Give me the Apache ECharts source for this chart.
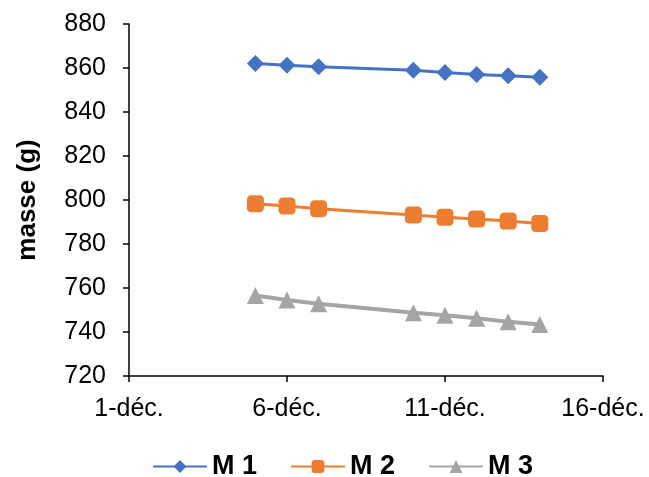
<!DOCTYPE html>
<html><head><meta charset="utf-8">
<script src="https://cdn.jsdelivr.net/npm/echarts@6/dist/echarts.min.js"></script>
<style>html,body{margin:0;padding:0;background:#fff}#c{width:649px;height:477px}</style>
</head><body><div id="c"></div>
<script>
var days = [5, 6, 7, 10, 11, 12, 13, 14];
var m1 = [862, 861.3, 860.6, 859, 858, 857.1, 856.5, 855.8];
var m2 = [798.3, 797.3, 796, 793.2, 792.2, 791.4, 790.4, 789.3];
var m3 = [756.6, 754.5, 752.8, 748.8, 747.6, 746.3, 744.7, 743.4];
var seriesNames = ['M 1', 'M 2', 'M 3'];
var colors = ['#4472C4', '#ED7D31', '#A5A5A5'];
var monthLabel = 'déc.';

function pts(vals){ return days.map(function(d,i){ return [d-1, vals[i]]; }); }
var font = 'Liberation Sans, Arial, sans-serif';
var chart = echarts.init(document.getElementById('c'));
chart.setOption({
  animation:false,
  grid:{left:129, right:46, top:24, bottom:101},
  xAxis:{type:'value', min:0, max:15, interval:5,
    axisLine:{lineStyle:{color:'#000', width:1.5}},
    axisTick:{show:true, length:6, lineStyle:{color:'#000', width:1.5}},
    splitLine:{show:false},
    axisLabel:{color:'#000', fontSize:25, fontFamily:font, margin:21,
      formatter:function(v){ return (v+1)+'-'+monthLabel; }}
  },
  yAxis:{type:'value', min:720, max:880, interval:20,
    name:'masse (g)', nameLocation:'middle', nameGap:88,
    nameTextStyle:{color:'#000', fontSize:26, fontWeight:'bold', fontFamily:font},
    axisLine:{show:true, lineStyle:{color:'#000', width:1.5}},
    axisTick:{show:true, length:6, lineStyle:{color:'#000', width:1.5}},
    splitLine:{show:false},
    axisLabel:{color:'#000', fontSize:25, fontFamily:font, margin:23}
  },
  legend:{top:453, left:152, padding:0, itemWidth:54, itemHeight:16, itemGap:33,
    textStyle:{color:'#000', fontSize:27, fontWeight:'bold', fontFamily:font},
    data:seriesNames},
  series:[
    {name:seriesNames[0], type:'line', data:pts(m1), symbol:'diamond', symbolSize:17,
      itemStyle:{color:colors[0]}, lineStyle:{color:colors[0], width:3}},
    {name:seriesNames[1], type:'line', data:pts(m2), symbol:'roundRect', symbolSize:17,
      itemStyle:{color:colors[1]}, lineStyle:{color:colors[1], width:3}},
    {name:seriesNames[2], type:'line', data:pts(m3), symbol:'triangle', symbolSize:17,
      itemStyle:{color:colors[2]}, lineStyle:{color:colors[2], width:4}}
  ]
});
</script></body></html>
